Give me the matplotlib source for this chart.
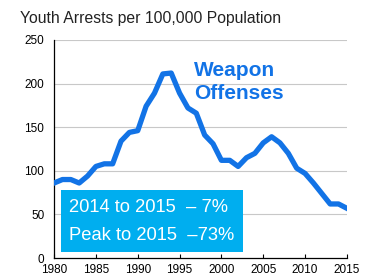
import matplotlib
matplotlib.use("Agg")
import matplotlib.pyplot as plt
from matplotlib.patches import Rectangle

plt.rcParams["font.family"] = ["Liberation Sans", "DejaVu Sans"]

years = list(range(1980, 2016))
rate = [86, 90, 90, 86, 94, 105, 108, 108, 134, 144, 146, 174, 189, 211, 212, 189,
        172, 166, 141, 131, 112, 112, 105, 115, 120, 132, 139, 132, 120, 103,
        97, 86, 74, 62, 62, 57]
yticks = [0, 50, 100, 150, 200, 250]
xticks = [1980, 1985, 1990, 1995, 2000, 2005, 2010, 2015]
box_lines = ["2014 to 2015  \u2013 7%", "Peak to 2015  \u201373%"]

line_col = "#1273e6"
box_col = "#00aeef"

fig = plt.figure(figsize=(3.73, 2.79), dpi=100)
ax = fig.add_axes([0.145, 0.075, 0.785, 0.782])

for v in yticks[1:]:
    ax.axhline(v, color="#c8c8c8", lw=0.8, zorder=0)

ax.plot(years, rate, color=line_col, lw=3.8, solid_joinstyle="round", zorder=3)

ax.set_xlim(1980, 2015)
ax.set_ylim(0, 250)
ax.set_xticks(xticks)
ax.set_yticks(yticks)
ax.tick_params(axis="both", direction="in", length=3, width=0.8, labelsize=8.5, pad=4)
ax.tick_params(axis="y", length=0, pad=7)
for s in ["top", "right"]:
    ax.spines[s].set_visible(False)
for s in ["left", "bottom"]:
    ax.spines[s].set_linewidth(0.9)

ax.add_patch(Rectangle((0.023, 0.029), 0.621, 0.284, transform=ax.transAxes,
                       facecolor=box_col, edgecolor="none", zorder=2))
ax.text(0.05, 0.231, box_lines[0], transform=ax.transAxes, color="white",
        fontsize=13.2, va="center", ha="left", zorder=4)
ax.text(0.05, 0.102, box_lines[1], transform=ax.transAxes, color="white",
        fontsize=13.2, va="center", ha="left", zorder=4)

ax.text(1996.7, 202, "Weapon\nOffenses", color=line_col, fontsize=15,
        fontweight="bold", ha="left", va="center", linespacing=1.25, zorder=4)

fig.text(20 / 373, 1 - 18 / 279, "Youth Arrests per 100,000 Population",
         fontsize=11.3, ha="left", va="center", color="#222222")

fig.savefig("out.png", dpi=100)
